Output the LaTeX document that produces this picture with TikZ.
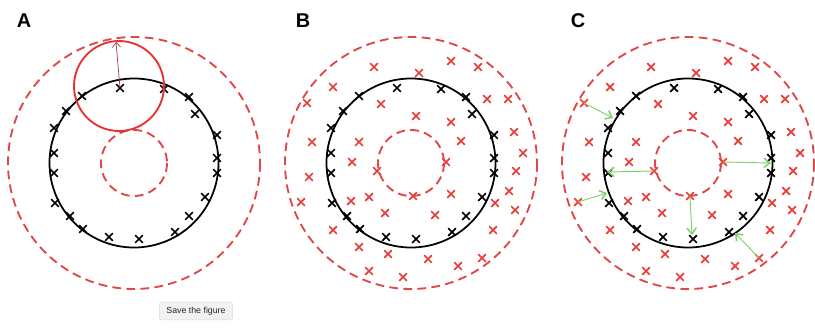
\documentclass[tikz,border=0pt]{standalone}
\usepackage{fontspec}
\setmainfont{Liberation Sans}
\usetikzlibrary{shapes.misc,arrows.meta}

\definecolor{ringred}{RGB}{224,72,72}
\definecolor{circred}{RGB}{230,50,50}
\definecolor{ptred}{RGB}{232,62,58}
\definecolor{argreen}{RGB}{128,206,108}
\definecolor{liftred}{RGB}{165,60,60}

\tikzset{
  ring/.style={draw=ringred, line width=1.6pt, dash pattern=on 7.5pt off 4.5pt},
  orbit/.style={draw=black, line width=1.5pt},
  bpt/.style={cross out, draw=black, line width=1.5pt, minimum size=5pt, inner sep=0pt},
  rpt/.style={cross out, draw=ptred, line width=1.5pt, minimum size=5pt, inner sep=0pt},
  push/.style={draw=argreen, line width=0.8pt,
    -{Straight Barb[length=5pt,width=8pt,line width=1.3pt]}},
  lift/.style={draw=liftred, line width=0.6pt, -{Straight Barb[length=4pt,width=7pt]}},
  tag/.style={font=\fontsize{17}{17}\selectfont\bfseries},
  btn/.style={draw=gray!30, fill=gray!10, rounded corners=2pt, minimum width=2.2cm,
    minimum height=0.53cm, inner sep=1pt, text=black!85, font=\fontsize{7.5}{8}\selectfont}
}

\begin{document}
\begin{tikzpicture}[x=0.03cm, y=-0.03cm]
    \useasboundingbox (0,0) rectangle (815,335);

    % 绘制三个圆环
    \foreach \p/\cx in {a/134, b/411, c/688} {
        \begin{scope}[shift={(\cx,163)}]
            \draw[ring] (0,0) circle (126);
            \draw[ring] (0,0) circle (33);
            \draw[orbit] (0,0) circle (84.5);
            % 圆上的点
            \foreach \dx/\dy [count=\i] in {-14/-75, 30/-74, 55/-66, -52/-67, -68/-52,
                61/-49, -80/-35, 83/-28, -80/-10, 83/-5, -80/10, 83/10, 71/34, -79/40,
                -64/53, 55/53, -51/66, 41/69, -25/74, 5/76}
                \node[bpt] (\p-k\i) at (\dx,\dy) {};
        \end{scope}
    }

    % 绘制 B、C 中的红点
    \foreach \p/\cx in {b/411, c/688} {
        \begin{scope}[shift={(\cx,163)}]
            \foreach \dx/\dy [count=\i] in {-37/-96, 8/-90, 40/-102, 67/-96, -78/-76,
                -104/-60, -30/-59, 76/-64, 97/-64, 5/-47, 40/-41, -99/-21, -52/-21,
                50/-22, 103/-31, -59/-1, 35/-1, -34/8, 112/-10, -102/14, 105/8, 2/33,
                -42/34, -60/38, 40/31, 98/28, -110/39, 84/40, 104/47, -26/50, 24/52,
                -78/67, 82/67, -52/84, -23/91, 17/96, 47/103, 71/95, -42/108, -8/114}
                \node[rpt] (\p-r\i) at (\dx,\dy) {};
        \end{scope}
    }

    % 绘制 A 中的红圈和箭头
    \draw[draw=circred, line width=1.6pt] (119,86) circle (45);
    \coordinate (a-top) at (116,42);
    \draw[lift] (a-k1.center) -- (a-top);

    % 绘制 C 中的绿色箭头
    \coordinate (c-e1) at (613,118);
    \coordinate (c-e2) at (607,172);
    \coordinate (c-e3) at (607,193);
    \coordinate (c-e4) at (692,235);
    \coordinate (c-e5) at (771,163);
    \coordinate (c-e6) at (735,233);
    \draw[push] (c-r6.center) -- (c-e1);
    \draw[push] (c-r18.center) -- (c-e2);
    \draw[push] (c-r27.center) -- (c-e3);
    \draw[push] (c-r22.center) -- (c-e4);
    \draw[push] (c-r17.center) -- (c-e5);
    \draw[push] (c-r38.center) -- (c-e6);

    % 标签
    \node[tag] (la) at (24,21) {A};
    \node[tag] (lb) at (303,21) {B};
    \node[tag] (lc) at (578,21) {C};

    % 按钮
    \node[btn] (save) at (196,311) {Save the figure};
\end{tikzpicture}
\end{document}
